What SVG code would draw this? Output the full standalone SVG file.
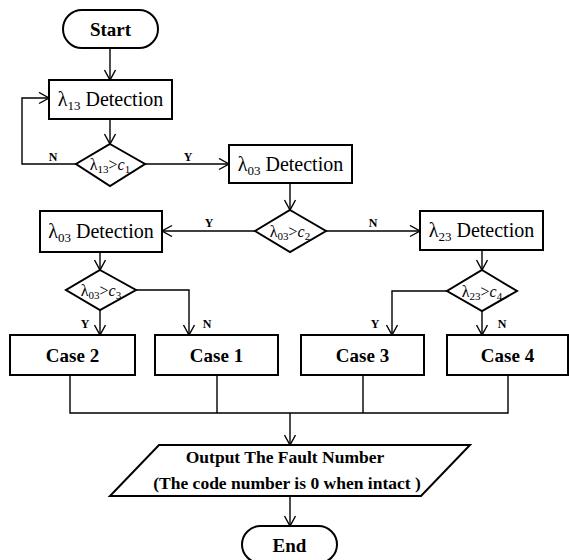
<svg xmlns="http://www.w3.org/2000/svg" width="569" height="560" viewBox="0 0 569 560">
<style>
.box{fill:#fff;stroke:#000;stroke-width:2}
.ln{fill:none;stroke:#000;stroke-width:1.4}
text{font-family:'Liberation Serif','Times New Roman','DejaVu Serif',serif;fill:#000}
.reg{font-size:20px}
.bold{font-size:19px;font-weight:bold}
.dia{font-size:16px}
.lbl{font-size:12px;font-weight:bold}
.sub{font-size:11px}
.bsub{font-size:13px}
</style>
<defs>
<marker id="arr" markerUnits="userSpaceOnUse" markerWidth="14" markerHeight="14" refX="11" refY="6" orient="auto">
<path d="M1,0.5 L11,6 L1,11.5" fill="none" stroke="#000" stroke-width="1.4"/>
</marker>
</defs>
<g id="connectors">
<path class="ln" d="M110,48 V80" marker-end="url(#arr)"/>
<path class="ln" d="M110,119 V144" marker-end="url(#arr)"/>
<path class="ln" d="M76,164 H22 V98 H49" marker-end="url(#arr)"/>
<path class="ln" d="M145,164 H229" marker-end="url(#arr)"/>
<path class="ln" d="M290,183 V210" marker-end="url(#arr)"/>
<path class="ln" d="M255,231 H162" marker-end="url(#arr)"/>
<path class="ln" d="M326,231 H420" marker-end="url(#arr)"/>
<path class="ln" d="M100,252 V270" marker-end="url(#arr)"/>
<path class="ln" d="M100,310 V335" marker-end="url(#arr)"/>
<path class="ln" d="M136,290 H189 V335" marker-end="url(#arr)"/>
<path class="ln" d="M482,250 V270" marker-end="url(#arr)"/>
<path class="ln" d="M447,291 H392 V335" marker-end="url(#arr)"/>
<path class="ln" d="M482,311 V335" marker-end="url(#arr)"/>
<path class="ln" d="M70,375 V413 H508 V375 M217,375 V413 M363,375 V413"/>
<path class="ln" d="M290,413 V445" marker-end="url(#arr)"/>
<path class="ln" d="M290,496 V526" marker-end="url(#arr)"/>
<g>
<text class="lbl" x="53" y="161" text-anchor="middle">N</text>
<text class="lbl" x="188" y="161" text-anchor="middle">Y</text>
<text class="lbl" x="209" y="227" text-anchor="middle">Y</text>
<text class="lbl" x="373" y="227" text-anchor="middle">N</text>
<text class="lbl" x="85" y="328" text-anchor="middle">Y</text>
<text class="lbl" x="207" y="328" text-anchor="middle">N</text>
<text class="lbl" x="375" y="328" text-anchor="middle">Y</text>
<text class="lbl" x="502" y="328" text-anchor="middle">N</text>
</g>
</g>
<g id="start">
<rect class="box" x="63" y="10" width="95" height="38" rx="19" ry="19"/>
<text class="bold" x="110.5" y="36" text-anchor="middle">Start</text>
</g>
<g id="det13">
<rect class="box" x="49" y="80" width="123" height="39"/>
<text class="reg" x="110.5" y="106" text-anchor="middle">λ<tspan class="bsub" dy="4">13</tspan><tspan dy="-4"> Detection</tspan></text>
</g>
<g id="dec1">
<polygon class="box" points="110,144 145,164 110,186 76,164"/>
<text class="dia" x="110" y="170" text-anchor="middle">λ<tspan class="sub" dy="3">13</tspan><tspan dy="-3">&gt;</tspan><tspan font-style="italic">c</tspan><tspan class="sub" dy="3">1</tspan></text>
</g>
<g id="det03a">
<rect class="box" x="229" y="145" width="123" height="38"/>
<text class="reg" x="290.5" y="171" text-anchor="middle">λ<tspan class="bsub" dy="4">03</tspan><tspan dy="-4"> Detection</tspan></text>
</g>
<g id="dec2">
<polygon class="box" points="290,210 326,231 290,252 255,231"/>
<text class="dia" x="290" y="237" text-anchor="middle">λ<tspan class="sub" dy="3">03</tspan><tspan dy="-3">&gt;</tspan><tspan font-style="italic">c</tspan><tspan class="sub" dy="3">2</tspan></text>
</g>
<g id="det03b">
<rect class="box" x="40" y="211" width="122" height="41"/>
<text class="reg" x="101" y="238" text-anchor="middle">λ<tspan class="bsub" dy="4">03</tspan><tspan dy="-4"> Detection</tspan></text>
</g>
<g id="det23">
<rect class="box" x="420" y="211" width="123" height="39"/>
<text class="reg" x="481.5" y="237" text-anchor="middle">λ<tspan class="bsub" dy="4">23</tspan><tspan dy="-4"> Detection</tspan></text>
</g>
<g id="dec3">
<polygon class="box" points="100,270 136,290 100,310 66,290"/>
<text class="dia" x="101" y="296" text-anchor="middle">λ<tspan class="sub" dy="3">03</tspan><tspan dy="-3">&gt;</tspan><tspan font-style="italic">c</tspan><tspan class="sub" dy="3">3</tspan></text>
</g>
<g id="dec4">
<polygon class="box" points="482,270 517,291 482,311 447,291"/>
<text class="dia" x="482" y="297" text-anchor="middle">λ<tspan class="sub" dy="3">23</tspan><tspan dy="-3">&gt;</tspan><tspan font-style="italic">c</tspan><tspan class="sub" dy="3">4</tspan></text>
</g>
<g id="case2">
<rect class="box" x="10" y="335" width="125" height="40"/>
<text class="bold" x="72.5" y="362" text-anchor="middle">Case 2</text>
</g>
<g id="case1">
<rect class="box" x="155" y="335" width="123" height="40"/>
<text class="bold" x="216.5" y="362" text-anchor="middle">Case 1</text>
</g>
<g id="case3">
<rect class="box" x="301" y="335" width="123" height="40"/>
<text class="bold" x="362.5" y="362" text-anchor="middle">Case 3</text>
</g>
<g id="case4">
<rect class="box" x="447" y="335" width="121" height="40"/>
<text class="bold" x="507.5" y="362" text-anchor="middle">Case 4</text>
</g>
<g id="output">
<polygon class="box" points="159,445 470,445 421,496 110,496"/>
<text font-size="17.5" font-weight="bold" x="285" y="463" text-anchor="middle">Output The Fault Number</text>
<text font-size="17.5" font-weight="bold" x="287" y="489" text-anchor="middle">(The code number is 0 when intact )</text>
</g>
<g id="end">
<rect class="box" x="242" y="526" width="95" height="37" rx="18.5" ry="18.5"/>
<text class="bold" x="289.5" y="552" text-anchor="middle">End</text>
</g>
</svg>
